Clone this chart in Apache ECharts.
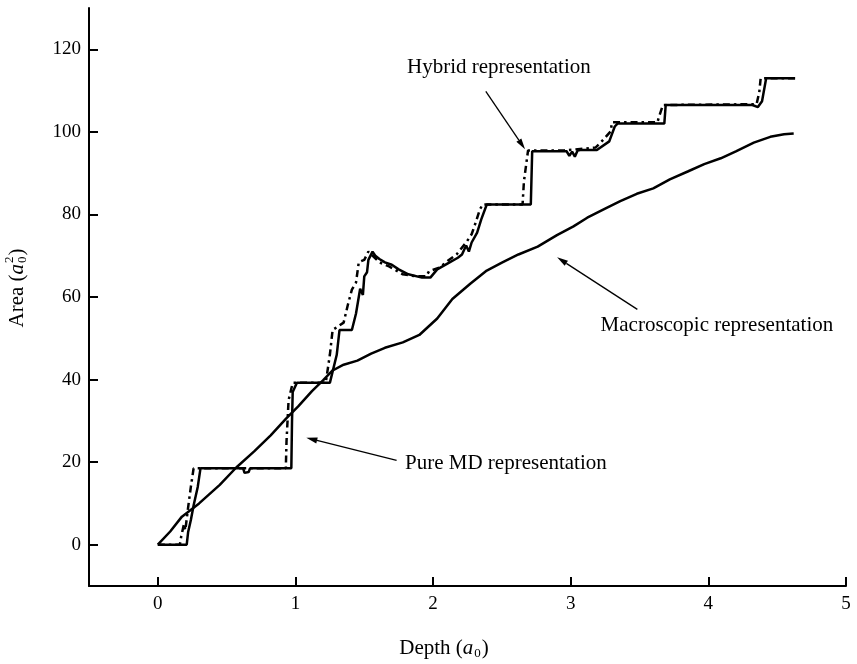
<!DOCTYPE html>
<html>
<head>
<meta charset="utf-8">
<script src="https://cdn.jsdelivr.net/npm/echarts@6/dist/echarts.min.js"></script>
<style>
  html, body { margin: 0; padding: 0; background: #fff; }
  #chart { width: 857px; height: 664px; }
</style>
</head>
<body>
<div id="chart"></div>
<script>
// Depth (a0) vs contact area (a0^2) for three representations.
const macroDepth = [0, 0.09, 0.175, 0.3, 0.45, 0.57, 0.7, 0.82, 0.93, 1.02, 1.12, 1.2, 1.27, 1.35, 1.45, 1.55, 1.65, 1.78, 1.9, 2.03, 2.14, 2.27, 2.39, 2.5, 2.62, 2.76, 2.9, 3.02, 3.12, 3.25, 3.36, 3.48, 3.6, 3.72, 3.85, 3.97, 4.09, 4.2, 4.33, 4.45, 4.55, 4.62];
const macroArea  = [0, 3.2, 6.8, 10, 14.5, 18.7, 22.6, 26.5, 30.5, 33.5, 37.2, 39.8, 42.2, 43.6, 44.6, 46.3, 47.7, 49.0, 50.8, 54.8, 59.5, 63.2, 66.4, 68.3, 70.3, 72.2, 75.0, 77.1, 79.2, 81.4, 83.2, 85.0, 86.3, 88.5, 90.4, 92.2, 93.6, 95.3, 97.4, 98.8, 99.4, 99.6];

const mdDepth = [0, 0.21, 0.22, 0.24, 0.26, 0.29, 0.31, 0.62, 0.63, 0.66, 0.67, 0.97, 0.975, 0.98, 1.01, 1.25, 1.3, 1.32, 1.41, 1.44, 1.47, 1.49, 1.5, 1.52, 1.53, 1.56, 1.58, 1.61, 1.65, 1.7, 1.75, 1.82, 1.92, 1.98, 2.03, 2.12, 2.18, 2.21, 2.24, 2.26, 2.28, 2.32, 2.35, 2.39, 2.71, 2.72, 2.97, 2.99, 3.01, 3.03, 3.05, 3.07, 3.19, 3.28, 3.32, 3.34, 3.68, 3.69, 4.32, 4.36, 4.39, 4.42, 4.63];
const mdArea  = [0, 0, 3, 6, 9.5, 14, 18.5, 18.5, 17.4, 17.6, 18.5, 18.5, 30, 37, 39.2, 39.2, 46, 52, 52, 56, 62, 60.5, 65, 66, 69, 71, 70, 69.2, 68.4, 67.8, 66.7, 65.5, 64.7, 64.7, 66.7, 68.4, 69.5, 70.3, 72.5, 71, 73.2, 75.6, 78.8, 82.4, 82.4, 95.3, 95.3, 94.2, 95.2, 94, 95.5, 95.6, 95.6, 97.7, 101.3, 102, 102, 106.5, 106.5, 106, 107.4, 113, 113];

const hybridDepth = [0, 0.16, 0.17, 0.19, 0.2, 0.22, 0.24, 0.26, 0.93, 0.935, 0.95, 0.98, 1.22, 1.25, 1.27, 1.35, 1.38, 1.41, 1.44, 1.46, 1.5, 1.53, 1.61, 1.68, 1.78, 1.88, 1.95, 1.97, 2.05, 2.1, 2.17, 2.24, 2.28, 2.31, 2.34, 2.36, 2.65, 2.66, 2.69, 2.95, 3.18, 3.22, 3.29, 3.3, 3.63, 3.64, 3.67, 4.35, 4.37, 4.38, 4.63];
const hybridArea  = [0, 0, 2, 5, 3.5, 9, 14, 18.5, 18.5, 25, 35, 39.2, 39.2, 46, 52, 53.8, 58, 61.8, 63.5, 68.4, 69, 71, 68.4, 67.4, 65.5, 65, 65, 66.2, 67.2, 68.6, 70.3, 73.2, 75.2, 78.1, 81.2, 82.4, 82.4, 88, 95.5, 95.5, 96.2, 97.5, 100.1, 102.3, 102.3, 103.5, 106.5, 106.7, 109.6, 113, 113];

const xTicks = [0, 1, 2, 3, 4, 5];
const yTicks = [0, 20, 40, 60, 80, 100, 120];

// Callout texts: label centre, arrow tail, arrow tip (all in data units)
const callouts = [
  { text: 'Hybrid representation',      at: [2.478, 115.7], from: [2.383, 109.8], to: [2.668, 95.8] },
  { text: 'Macroscopic representation', at: [4.062, 53.2],  from: [3.484, 57.0],  to: [2.901, 69.6] },
  { text: 'Pure MD representation',     at: [2.529, 19.7],  from: [1.735, 20.4],  to: [1.079, 25.9] }
];

const zip = (xs, ys) => xs.map((x, i) => [x, ys[i]]);
const FONT = '"Liberation Serif", "Times New Roman", serif';
const INK = '#000';

const chart = echarts.init(document.getElementById('chart'), null, { renderer: 'canvas' });

const option = {
  animation: false,
  backgroundColor: '#fff',
  grid: { left: 89, right: 11, top: 8, bottom: 78, outerBoundsMode: 'none' },
  xAxis: {
    type: 'value', min: -0.5, max: 5,
    axisLine: { show: true, onZero: false, lineStyle: { color: INK, width: 2 } },
    axisTick: { show: true, inside: true, length: 9, customValues: xTicks, lineStyle: { color: INK, width: 2 } },
    axisLabel: { customValues: xTicks, color: INK, fontFamily: FONT, fontSize: 19, margin: 9 },
    splitLine: { show: false }
  },
  yAxis: {
    type: 'value', min: -10, max: 130,
    axisLine: { show: true, onZero: false, lineStyle: { color: INK, width: 2 } },
    axisTick: { show: true, inside: true, length: 9, customValues: yTicks, lineStyle: { color: INK, width: 2 } },
    axisLabel: { customValues: yTicks, color: INK, fontFamily: FONT, fontSize: 19, margin: 8 },
    splitLine: { show: false }
  },
  series: [
    {
      name: 'Macroscopic', type: 'line', data: zip(macroDepth, macroArea),
      showSymbol: false, lineStyle: { color: INK, width: 2.5 }
    },
    {
      name: 'Pure MD', type: 'line', data: zip(mdDepth, mdArea),
      showSymbol: false, lineStyle: { color: INK, width: 2.5 }
    },
    {
      name: 'Hybrid', type: 'line', data: zip(hybridDepth, hybridArea),
      showSymbol: false, lineStyle: { color: INK, width: 2.5, type: [7, 4, 2.5, 4] }
    }
  ]
};
chart.setOption(option);

// Text measuring for composed axis titles
const ctx = document.createElement('canvas').getContext('2d');
function measure(str, size, italic) {
  ctx.font = (italic ? 'italic ' : '') + size + 'px ' + FONT;
  return ctx.measureText(str).width;
}

// Builds "Label (a_0)" or "Label (a_0^2)" as a row of text pieces centred at 0
function titlePieces(label, withSup) {
  const big = 21, small = 13;
  const w1 = measure(label + ' (', big, false);
  const wa = measure('a', big, true);
  const ws = measure('0', small, false);
  const wc = measure(')', big, false);
  const total = w1 + wa + 1 + ws + 1 + wc;
  let x = -total / 2;
  const base = { fontFamily: FONT, fill: INK, verticalAlign: 'middle' };
  const out = [];
  out.push({ type: 'text', x: x, y: 0, style: Object.assign({ text: label + ' (', fontSize: big }, base) });
  x += w1;
  out.push({ type: 'text', x: x, y: 0, style: Object.assign({ text: 'a', fontSize: big, fontStyle: 'italic' }, base) });
  x += wa + 1;
  out.push({ type: 'text', x: x, y: 6, style: Object.assign({ text: '0', fontSize: small }, base) });
  if (withSup) {
    out.push({ type: 'text', x: x, y: -7, style: Object.assign({ text: '2', fontSize: small }, base) });
  }
  x += ws + 1;
  out.push({ type: 'text', x: x, y: 0, style: Object.assign({ text: ')', fontSize: big }, base) });
  return out;
}

function arrowGraphics(p0, p1) {
  const dx = p1[0] - p0[0], dy = p1[1] - p0[1];
  const len = Math.hypot(dx, dy);
  const ux = dx / len, uy = dy / len;
  const head = 11, half = 3;
  const bx = p1[0] - ux * head, by = p1[1] - uy * head;
  return [
    { type: 'line', shape: { x1: p0[0], y1: p0[1], x2: bx, y2: by }, style: { stroke: INK, lineWidth: 1.3 } },
    { type: 'polygon', shape: { points: [[p1[0], p1[1]], [bx - uy * half, by + ux * half], [bx + uy * half, by - ux * half]] }, style: { fill: INK } }
  ];
}

const graphics = [];
// x-axis title
graphics.push({ type: 'group', x: 444, y: 648, children: titlePieces('Depth', false) });
// y-axis title, reading bottom to top
graphics.push({ type: 'group', x: 17, y: 288, rotation: Math.PI / 2, children: titlePieces('Area', true) });

callouts.forEach(c => {
  const at = chart.convertToPixel({ gridIndex: 0 }, c.at);
  const from = chart.convertToPixel({ gridIndex: 0 }, c.from);
  const to = chart.convertToPixel({ gridIndex: 0 }, c.to);
  graphics.push({
    type: 'text', x: at[0], y: at[1],
    style: { text: c.text, fontFamily: FONT, fontSize: 21, fill: INK, align: 'center', verticalAlign: 'middle' }
  });
  arrowGraphics(from, to).forEach(g => graphics.push(g));
});

chart.setOption({ graphic: graphics });
</script>
</body>
</html>
